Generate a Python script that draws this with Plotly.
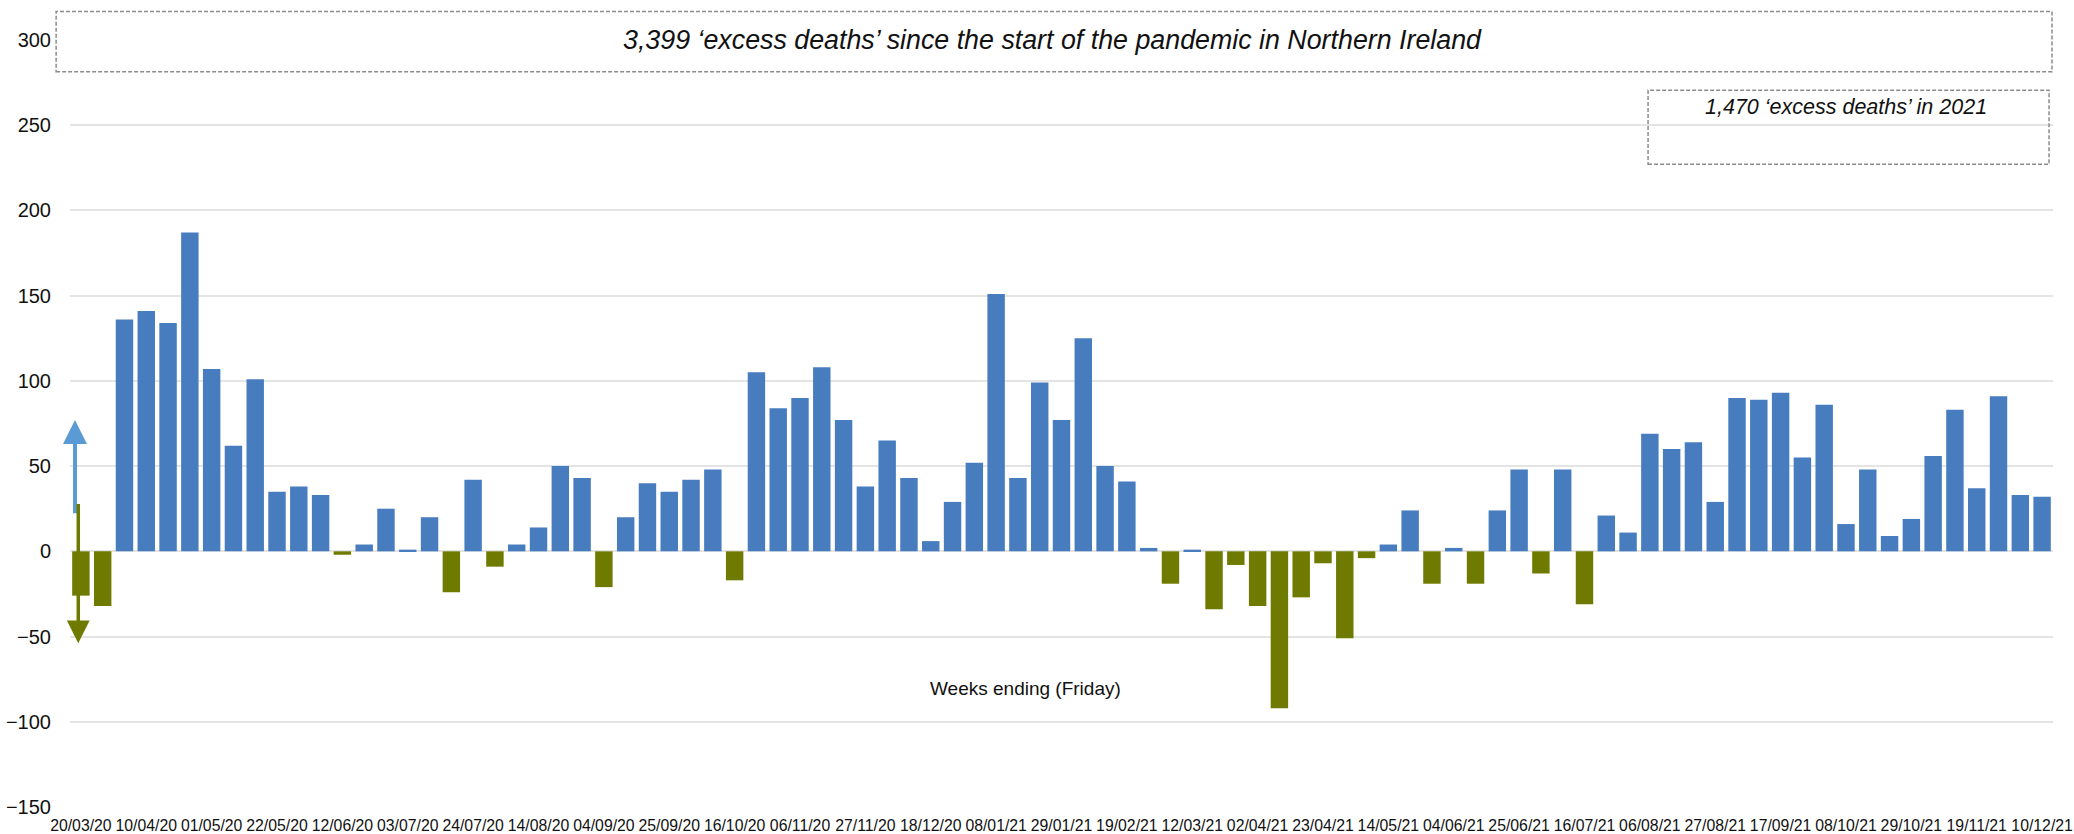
import plotly.graph_objects as go

# Week-ending dates (Fridays)
weeks = [
    "20/03/20", "27/03/20", "03/04/20", "10/04/20", "17/04/20", "24/04/20", "01/05/20", "08/05/20",
    "15/05/20", "22/05/20", "29/05/20", "05/06/20", "12/06/20", "19/06/20", "26/06/20", "03/07/20",
    "10/07/20", "17/07/20", "24/07/20", "31/07/20", "07/08/20", "14/08/20", "21/08/20", "28/08/20",
    "04/09/20", "11/09/20", "18/09/20", "25/09/20", "02/10/20", "09/10/20", "16/10/20", "23/10/20",
    "30/10/20", "06/11/20", "13/11/20", "20/11/20", "27/11/20", "04/12/20", "11/12/20", "18/12/20",
    "25/12/20", "01/01/21", "08/01/21", "15/01/21", "22/01/21", "29/01/21", "05/02/21", "12/02/21",
    "19/02/21", "26/02/21", "05/03/21", "12/03/21", "19/03/21", "26/03/21", "02/04/21", "09/04/21",
    "16/04/21", "23/04/21", "30/04/21", "07/05/21", "14/05/21", "21/05/21", "28/05/21", "04/06/21",
    "11/06/21", "18/06/21", "25/06/21", "02/07/21", "09/07/21", "16/07/21", "23/07/21", "30/07/21",
    "06/08/21", "13/08/21", "20/08/21", "27/08/21", "03/09/21", "10/09/21", "17/09/21", "24/09/21",
    "01/10/21", "08/10/21", "15/10/21", "22/10/21", "29/10/21", "05/11/21", "12/11/21", "19/11/21",
    "26/11/21", "03/12/21", "10/12/21",
]

# Excess deaths per week
excess = [
    -26, -32, 136, 141, 134, 187, 107, 62, 101, 35,
    38, 33, -2, 4, 25, 1, 20, -24, 42, -9,
    4, 14, 50, 43, -21, 20, 40, 35, 42, 48,
    -17, 105, 84, 90, 108, 77, 38, 65, 43, 6,
    29, 52, 151, 43, 99, 77, 125, 50, 41, 2,
    -19, 1, -34, -8, -32, -92, -27, -7, -51, -4,
    4, 24, -19, 2, -19, 24, 48, -13, 48, -31,
    21, 11, 69, 60, 64, 29, 90, 89, 93, 55,
    86, 16, 48, 9, 19, 56, 83, 37, 91, 33,
    32,
]

title_text = "3,399 \u2018excess deaths\u2019 since the start of the pandemic in Northern Ireland"
sub_text = "1,470 \u2018excess deaths\u2019 in 2021"
xaxis_text = "Weeks ending (Friday)"

BLUE = "#477CBF"
OLIVE = "#6F7A00"
FONT = "Liberation Sans"

xs = list(range(len(weeks)))
colors = [BLUE if v >= 0 else OLIVE for v in excess]

fig = go.Figure()
fig.add_trace(go.Bar(
    x=xs, y=excess, marker=dict(color=colors, line=dict(width=0)),
    customdata=weeks, hovertemplate="%{customdata}: %{y}<extra></extra>",
))

tick_idx = xs[::3]
fig.update_layout(
    width=2074, height=834,
    margin=dict(l=70, r=21, t=40, b=27, autoexpand=False),
    paper_bgcolor="white", plot_bgcolor="white",
    bargap=0.2, showlegend=False,
    font=dict(family=FONT, color="#1a1a1a"),
    xaxis=dict(
        range=[-0.5, len(weeks) - 0.5], automargin=False,
        tickmode="array", tickvals=tick_idx, ticktext=[weeks[i] for i in tick_idx],
        tickangle=0, showgrid=False, zeroline=False, showline=False, ticks="",
        tickfont=dict(size=15.8, family=FONT, color="#111"),
        ticklabelstandoff=7,
    ),
    yaxis=dict(
        range=[-150, 300], automargin=False,
        tickmode="array", tickvals=[-150, -100, -50, 0, 50, 100, 150, 200, 250, 300],
        showgrid=True, gridcolor="#E4E4E4", gridwidth=2,
        zeroline=True, zerolinecolor="#E4E4E4", zerolinewidth=2,
        showline=False, ticks="",
        tickfont=dict(size=20, family=FONT, color="#111"),
        ticklabelstandoff=18,
    ),
)

# Boxes
fig.add_shape(type="rect", xref="paper", yref="paper",
              x0=-0.007, x1=0.9995, y0=0.9587, y1=1.0371,
              fillcolor="white", line=dict(color="#8C8C8C", width=1.5, dash="4px,2px"), layer="above")
fig.add_shape(type="rect", xref="paper", yref="paper",
              x0=0.7958, x1=0.998, y0=0.8379, y1=0.9346,
              fillcolor="rgba(0,0,0,0)", line=dict(color="#8C8C8C", width=1.5, dash="4px,2px"), layer="above")

fig.add_annotation(xref="paper", yref="paper", x=0.4957, y=1.0, text="<i>" + title_text + "</i>",
                   showarrow=False, font=dict(size=26.8, family=FONT, color="#111"), xanchor="center", yanchor="middle")
fig.add_annotation(xref="paper", yref="paper", x=0.8956, y=0.9124, text="<i>" + sub_text + "</i>",
                   showarrow=False, font=dict(size=21.5, family=FONT, color="#111"), xanchor="center", yanchor="middle")
fig.add_annotation(xref="x", yref="y", x=43.36, y=-80.5, text=xaxis_text,
                   showarrow=False, font=dict(size=19, family=FONT, color="#111"), xanchor="center", yanchor="middle")

# Direction arrows
fig.add_annotation(xref="x", yref="y", axref="x", ayref="y", x=-0.27, y=77, ax=-0.27, ay=21.5,
                   text="", showarrow=True, arrowhead=2, arrowsize=1.2, arrowwidth=4, arrowcolor="#5B9BD5")
fig.add_annotation(xref="x", yref="y", axref="x", ayref="y", x=-0.12, y=-54, ax=-0.12, ay=28.7,
                   text="", showarrow=True, arrowhead=2, arrowsize=1.3, arrowwidth=3.5, arrowcolor=OLIVE)

fig.write_html("out.html", config={"displayModeBar": False},
               post_script="document.body.style.margin='0';document.body.style.overflow='hidden';")
